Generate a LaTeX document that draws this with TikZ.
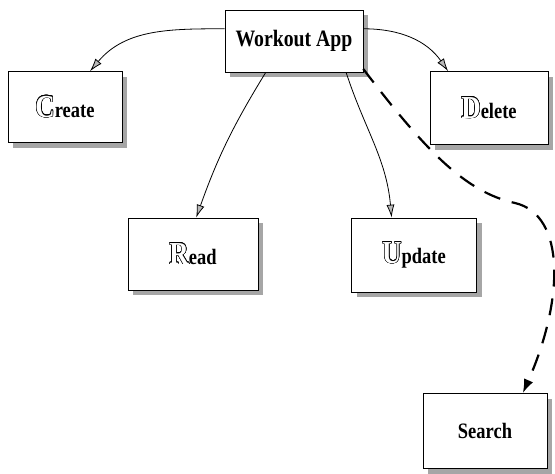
\documentclass[tikz,border=0pt]{standalone}
\usepackage{fontspec}
\usepackage{contour}
\usetikzlibrary{arrows.meta,shadows}
\newfontfamily\boxfont{Liberation Serif}[FakeStretch=0.84]
\contourlength{0.5pt}
\newcommand\initial[1]{{\fontsize{32}{33}\selectfont\contour{black}{\textcolor{white}{#1}}}}
\tikzset{
  box/.style={draw=black, line width=0.6pt, fill=white, rectangle, inner sep=0pt,
    font=\boxfont\bfseries\fontsize{22}{24}\selectfont,
    drop shadow={shadow xshift=5pt, shadow yshift=-5pt, fill=gray!70, opacity=1}},
  link/.style={line width=0.8pt, -{Latex[length=13pt,width=8pt,fill=gray!55]}},
  extra/.style={line width=2.2pt, dash pattern=on 17pt off 12pt,
    -{Latex[length=14pt,width=10pt,fill=black]}},
}
\begin{document}
\begin{tikzpicture}[x=1pt,y=-1pt]
  \useasboundingbox (0,0) rectangle (555,474);
  % the app and its CRUD operations
  \node[box, minimum width=138pt, minimum height=62pt, font=\boxfont\bfseries\fontsize{23.5}{25}\selectfont] (app) at (294,41) {Workout App};
  \node[box, minimum width=114pt, minimum height=71pt] (create) at (65,107) {\initial{C}reate};
  \node[box, minimum width=118pt, minimum height=73pt] (delete) at (489,108) {\initial{D}elete};
  \node[box, minimum width=130pt, minimum height=72pt] (read) at (193,254) {\initial{R}ead};
  \node[box, minimum width=125pt, minimum height=74pt] (update) at (414,255) {\initial{U}pdate};
  \node[box, minimum width=124pt, minimum height=75pt] (search) at (485,431) {Search};
  % connectors
  \draw[link] (app.170) to[out=180, in=50] (create.55);
  \draw[link] (app.10) to[out=0, in=125] (delete.138);
  \draw[link] (app.-132) to[bend right=6] (read.85);
  \draw[link] (app.-31) to[out=-72, in=95] (update.121);
  \draw[extra] (app.-22) .. controls (425,150) and (465,192) .. (515,203)
    .. controls (566,215) and (564,300) .. (search.45);
\end{tikzpicture}
\end{document}
